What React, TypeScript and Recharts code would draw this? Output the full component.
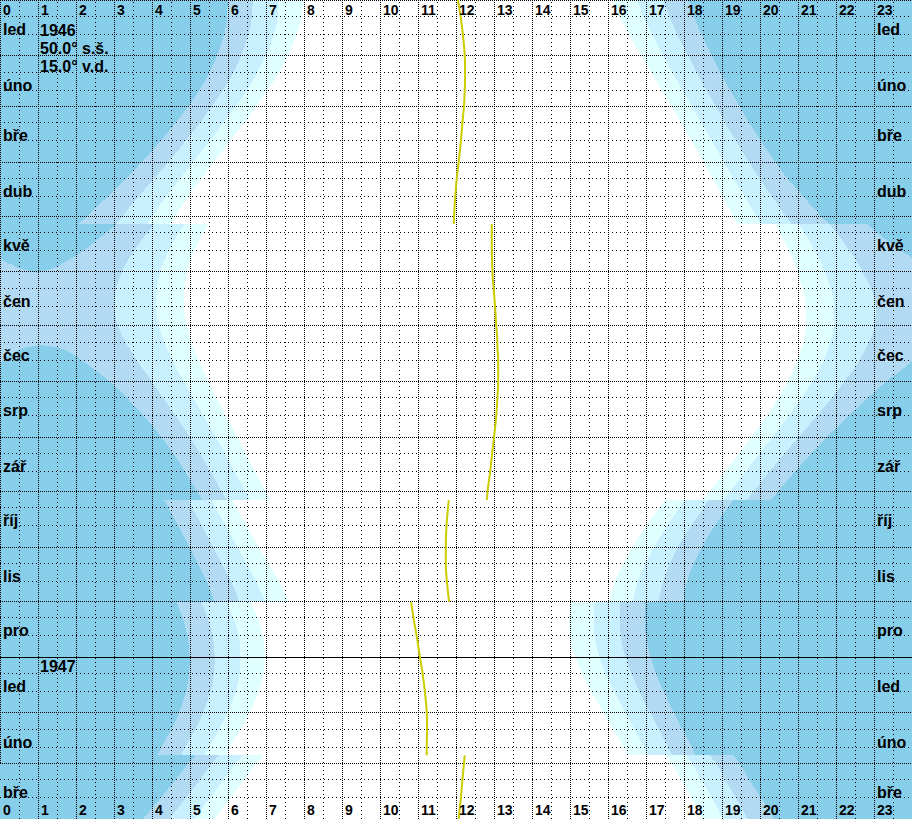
import { Area, ComposedChart, Line, ReferenceLine, XAxis, YAxis } from "recharts";

const W = 912;
const H = 819;

const NIGHT = "#87ceeb";
const ASTRO = "#b2daf3";
const NAUT = "#c8f0ff";
const CIVIL = "#e0ffff";
const DAY = "#ffffff";
const NOON = "#cccc00";
const FONT = "'Liberation Sans', Arial, sans-serif";

// day index from 1 Jan 1946 (455 days shown), times in local clock hours.
// null rows mark where the clock jumped (summer time, winter time).
const DAYS = [
  0, 9, 19, 31, 40, 50, 59, 68, 78, 90, 99, 109, 120, 124.4,
  124.4,
  124.4, 129, 134, 139, 144, 147, 150, 151.5, 160, 171, 181, 191.5, 193, 196, 200, 203, 212, 221, 231, 243, 252, 262, 273, 277.8,
  277.8,
  277.8, 282, 292, 304, 313, 323, 334.4,
  334.4,
  334.4, 343, 354, 365, 374, 384, 396, 405, 415, 419.6,
  419.6,
  419.6, 424, 433, 443, 455,
];
const ASTRO_DAWN = [
  5.99, 5.98, 5.9, 5.71, 5.52, 5.25, 4.96, 4.63, 4.24, 3.73, 3.33, 2.84, 2.3, 2.07,
  null,
  3.07, 2.81, 2.51, 2.2, 1.85, 1.59, 1.28, 0.96, 0.99, 1.03, 1.06, 1.09, 1.49, 1.85, 2.13, 2.34, 2.89, 3.34, 3.78, 4.25, 4.56, 4.87, 5.19, 5.32,
  null,
  4.32, 4.43, 4.69, 4.99, 5.2, 5.44, 5.65,
  null,
  4.65, 4.8, 4.94, 4.99, 4.98, 4.9, 4.71, 4.52, 4.25, 4.15,
  null,
  5.15, 4.96, 4.63, 4.24, 3.77,
];
const NAUT_DAWN = [
  6.65, 6.63, 6.54, 6.34, 6.15, 5.87, 5.58, 5.27, 4.9, 4.43, 4.07, 3.65, 3.23, 3.06,
  null,
  4.06, 3.89, 3.7, 3.54, 3.38, 3.3, 3.23, 3.21, 3.05, 3.0, 3.11, 3.34, 3.39, 3.48, 3.59, 3.69, 4.0, 4.29, 4.62, 5.0, 5.26, 5.54, 5.83, 5.96,
  null,
  4.96, 5.06, 5.31, 5.61, 5.83, 6.08, 6.3,
  null,
  5.3, 5.46, 5.6, 5.65, 5.63, 5.54, 5.34, 5.15, 4.87, 4.77,
  null,
  5.77, 5.58, 5.27, 4.9, 4.46,
];
const CIVIL_DAWN = [
  7.33, 7.31, 7.21, 6.99, 6.78, 6.5, 6.2, 5.89, 5.53, 5.08, 4.75, 4.38, 4.01, 3.86,
  null,
  4.86, 4.72, 4.57, 4.45, 4.34, 4.28, 4.23, 4.22, 4.12, 4.1, 4.18, 4.35, 4.38, 4.45, 4.53, 4.6, 4.84, 5.08, 5.36, 5.68, 5.92, 6.17, 6.46, 6.58,
  null,
  5.58, 5.68, 5.94, 6.25, 6.48, 6.74, 6.98,
  null,
  5.98, 6.14, 6.29, 6.33, 6.31, 6.21, 5.99, 5.78, 5.5, 5.4,
  null,
  6.4, 6.2, 5.89, 5.53, 5.11,
];
const SUNRISE = [
  7.97, 7.94, 7.81, 7.57, 7.35, 7.05, 6.75, 6.43, 6.07, 5.63, 5.31, 4.96, 4.62, 4.48,
  null,
  5.48, 5.36, 5.23, 5.12, 5.03, 4.98, 4.94, 4.93, 4.85, 4.84, 4.92, 5.06, 5.09, 5.15, 5.22, 5.28, 5.49, 5.7, 5.95, 6.25, 6.47, 6.71, 6.99, 7.12,
  null,
  6.12, 6.22, 6.49, 6.81, 7.06, 7.35, 7.6,
  null,
  6.6, 6.78, 6.93, 6.97, 6.94, 6.81, 6.57, 6.35, 6.05, 5.94,
  null,
  6.94, 6.75, 6.43, 6.07, 5.66,
];
const SUNSET = [
  16.14, 16.31, 16.55, 16.88, 17.13, 17.41, 17.67, 17.92, 18.19, 18.51, 18.74, 19.01, 19.29, 19.4,
  null,
  20.4, 20.52, 20.64, 20.76, 20.87, 20.92, 20.97, 20.99, 21.12, 21.21, 21.21, 21.12, 21.1, 21.05, 20.99, 20.93, 20.72, 20.48, 20.17, 19.76, 19.44, 19.08, 18.67, 18.49,
  null,
  17.49, 17.35, 17.01, 16.64, 16.41, 16.18, 16.03,
  null,
  15.03, 14.98, 15.0, 15.14, 15.31, 15.55, 15.88, 16.13, 16.41, 16.51,
  null,
  17.51, 17.67, 17.92, 18.19, 18.48,
];
const CIVIL_DUSK = [
  16.77, 16.93, 17.16, 17.46, 17.69, 17.96, 18.21, 18.45, 18.73, 19.05, 19.3, 19.59, 19.9, 20.02,
  null,
  21.02, 21.16, 21.3, 21.43, 21.56, 21.63, 21.68, 21.71, 21.86, 21.96, 21.95, 21.83, 21.81, 21.75, 21.68, 21.61, 21.37, 21.1, 20.76, 20.32, 19.99, 19.62, 19.21, 19.03,
  null,
  18.03, 17.89, 17.56, 17.21, 16.99, 16.78, 16.66,
  null,
  15.66, 15.62, 15.65, 15.77, 15.93, 16.16, 16.46, 16.69, 16.96, 17.05,
  null,
  18.05, 18.21, 18.45, 18.73, 19.03,
];
const NAUT_DUSK = [
  17.46, 17.61, 17.82, 18.11, 18.33, 18.59, 18.84, 19.08, 19.36, 19.71, 19.98, 20.31, 20.68, 20.83,
  null,
  21.83, 22.0, 22.18, 22.35, 22.51, 22.6, 22.68, 22.71, 22.92, 23.05, 23.02, 22.84, 22.8, 22.72, 22.62, 22.53, 22.22, 21.89, 21.5, 21.01, 20.65, 20.25, 19.84, 19.65,
  null,
  18.65, 18.52, 18.19, 17.84, 17.63, 17.45, 17.33,
  null,
  16.33, 16.31, 16.34, 16.46, 16.61, 16.82, 17.11, 17.33, 17.59, 17.68,
  null,
  18.68, 18.84, 19.08, 19.36, 19.68,
];
// past 24 h the evening twilight runs on into the next morning
const ASTRO_DUSK = [
  18.12, 18.26, 18.46, 18.74, 18.95, 19.21, 19.46, 19.71, 20.02, 20.4, 20.72, 21.13, 21.6, 21.82,
  null,
  22.82, 23.07, 23.36, 23.68, 24.05, 24.31, 24.64, 24.96, 24.99, 25.03, 25.06, 25.09, 24.69, 24.35, 24.08, 23.87, 23.32, 22.84, 22.34, 21.75, 21.35, 20.92, 20.48, 20.29,
  null,
  19.29, 19.15, 18.81, 18.47, 18.26, 18.08, 17.98,
  null,
  16.98, 16.96, 17.0, 17.12, 17.26, 17.46, 17.74, 17.95, 18.21, 18.3,
  null,
  19.3, 19.46, 19.71, 20.02, 20.37,
];
const NOON_TIME = [
  12.05, 12.12, 12.18, 12.23, 12.24, 12.23, 12.21, 12.17, 12.13, 12.07, 12.02, 11.98, 11.95, 11.94,
  null,
  12.94, 12.94, 12.94, 12.94, 12.95, 12.95, 12.96, 12.96, 12.99, 13.03, 13.06, 13.09, 13.09, 13.1, 13.11, 13.11, 13.11, 13.09, 13.06, 13.0, 12.95, 12.9, 12.83, 12.81,
  null,
  11.81, 11.79, 11.75, 11.73, 11.73, 11.76, 11.82,
  null,
  10.82, 10.88, 10.97, 11.05, 11.12, 11.18, 11.23, 11.24, 11.23, 11.23,
  null,
  12.23, 12.21, 12.17, 12.13, 12.07,
];

const HOURS = [0, 1, 2, 3, 4, 5, 6, 7, 8, 9, 10, 11, 12, 13, 14, 15, 16, 17, 18, 19, 20, 21, 22, 23];
const MONTH_START = [0, 31, 59, 90, 120, 151, 181, 212, 243, 273, 304, 334, 365, 396, 424];
const MONTH_NAMES = ["led", "úno", "bře", "dub", "kvě", "čen", "čec", "srp", "zář", "říj", "lis", "pro", "led", "úno", "bře"];
const YEAR_START = 365;

// split the table into clock-time segments at the null rows
let segCount = 0;
const rows: any[] = [];
DAYS.forEach((day, i) => {
  if (SUNRISE[i] == null) {
    segCount++;
    return;
  }
  rows.push({
    day,
    seg: segCount,
    ad: ASTRO_DAWN[i],
    nd: NAUT_DAWN[i],
    cd: CIVIL_DAWN[i],
    sr: SUNRISE[i],
    ss: SUNSET[i],
    cdu: CIVIL_DUSK[i],
    ndu: NAUT_DUSK[i],
    adu: ASTRO_DUSK[i],
    noon: NOON_TIME[i],
  });
});
const segments: number[] = [];
for (let s = 0; s <= segCount; s++) segments.push(s);

const monthTicks = MONTH_START.map((s) => s + 16);

const halfHours: number[] = [];
for (let i = 0; i < 48; i++) halfHours.push(i / 2);

const monthLines: number[] = [];
const tenDayLines: number[] = [];
MONTH_START.forEach((s) => {
  monthLines.push(s);
  tenDayLines.push(s + 9, s + 19);
});

const HourTick = (props: any) => {
  const x = props.payload?.coordinate ?? props.x;
  const label = String(props.payload?.value);
  const st = { fontFamily: FONT, fontSize: 14, fontWeight: 700, fill: "#000" } as const;
  return (
    <g>
      <text x={x + 3} y={15} {...st}>{label}</text>
      <text x={x + 3} y={815} {...st}>{label}</text>
    </g>
  );
};

const MonthTick = (props: any) => {
  const y = props.payload?.coordinate ?? props.y;
  const idx = monthTicks.indexOf(props.payload?.value);
  const label = MONTH_NAMES[idx] ?? "";
  const st = { fontFamily: FONT, fontSize: 16, fontWeight: 700, fill: "#000" } as const;
  return (
    <g>
      <text x={3} y={y + 6} {...st}>{label}</text>
      <text x={877} y={y + 6} {...st}>{label}</text>
    </g>
  );
};

type Pick = (r: any) => [number, number];
const BANDS: { key: string; fill: string; pick: Pick }[] = [
  { key: "astro", fill: ASTRO, pick: (r) => [r.ad, Math.min(r.adu, 24)] },
  { key: "astroWrap", fill: ASTRO, pick: (r) => [0, Math.max(r.adu - 24, 0)] },
  { key: "naut", fill: NAUT, pick: (r) => [r.nd, r.ndu] },
  { key: "civil", fill: CIVIL, pick: (r) => [r.cd, r.cdu] },
  { key: "day", fill: DAY, pick: (r) => [r.sr, r.ss] },
];

export default function App() {
  const infoStyle = { fontFamily: FONT, fontSize: 16, fontWeight: 700, fill: "#000" } as const;
  return (
    <div style={{ position: "absolute", left: 0, top: 0, width: W, height: H, background: NIGHT, overflow: "hidden" }}>
      <ComposedChart width={W} height={H} data={rows} layout="vertical" margin={{ top: 0, right: 0, bottom: 0, left: 0 }}>
        <XAxis
          type="number"
          domain={[0, 24]}
          allowDataOverflow
          ticks={HOURS}
          interval={0}
          height={20}
          mirror
          axisLine={false}
          tickLine={false}
          tick={HourTick}
        />
        <YAxis
          type="number"
          dataKey="day"
          domain={[0, 455]}
          allowDataOverflow
          ticks={monthTicks}
          interval={0}
          width={30}
          mirror
          axisLine={false}
          tickLine={false}
          tick={MonthTick}
        />
        {BANDS.map((b) =>
          segments.map((s) => (
            <Area
              key={b.key + s}
              type="monotone"
              dataKey={(r: any) => (r.seg === s ? b.pick(r) : null)}
              fill={b.fill}
              fillOpacity={1}
              stroke="none"
              shapeRendering="crispEdges"
              isAnimationActive={false}
              dot={false}
              activeDot={false}
            />
          ))
        )}
        {halfHours.map((h) => (
          <ReferenceLine
            key={"v" + h}
            x={h}
            stroke="#000"
            strokeWidth={1}
            strokeDasharray={h % 1 === 0 ? "1 1" : "1 3"}
            shapeRendering="crispEdges"
            zIndex={420}
          />
        ))}
        {monthLines.map((d) => (
          <ReferenceLine
            key={"m" + d}
            y={d}
            stroke="#000"
            strokeWidth={1}
            strokeDasharray="1 1"
            shapeRendering="crispEdges"
            zIndex={420}
          />
        ))}
        {tenDayLines.map((d) => (
          <ReferenceLine
            key={"t" + d}
            y={d}
            stroke="#000"
            strokeWidth={1}
            strokeDasharray="1 3"
            shapeRendering="crispEdges"
            zIndex={420}
          />
        ))}
        <ReferenceLine y={YEAR_START} stroke="#000" strokeWidth={1} shapeRendering="crispEdges" zIndex={430} />
        {segments.map((s) => (
          <Line
            key={"noon" + s}
            type="monotone"
            dataKey={(r: any) => (r.seg === s ? r.noon : null)}
            stroke={NOON}
            strokeWidth={2}
            dot={false}
            activeDot={false}
            isAnimationActive={false}
            zIndex={450}
          />
        ))}
      </ComposedChart>
      <svg width={W} height={H} style={{ position: "absolute", left: 0, top: 0, pointerEvents: "none" }}>
        <text x={40} y={36} {...infoStyle}>1946</text>
        <text x={40} y={54} {...infoStyle}>50.0° s.š.</text>
        <text x={40} y={72} {...infoStyle}>15.0° v.d.</text>
        <text x={40} y={672} {...infoStyle}>1947</text>
      </svg>
    </div>
  );
}
